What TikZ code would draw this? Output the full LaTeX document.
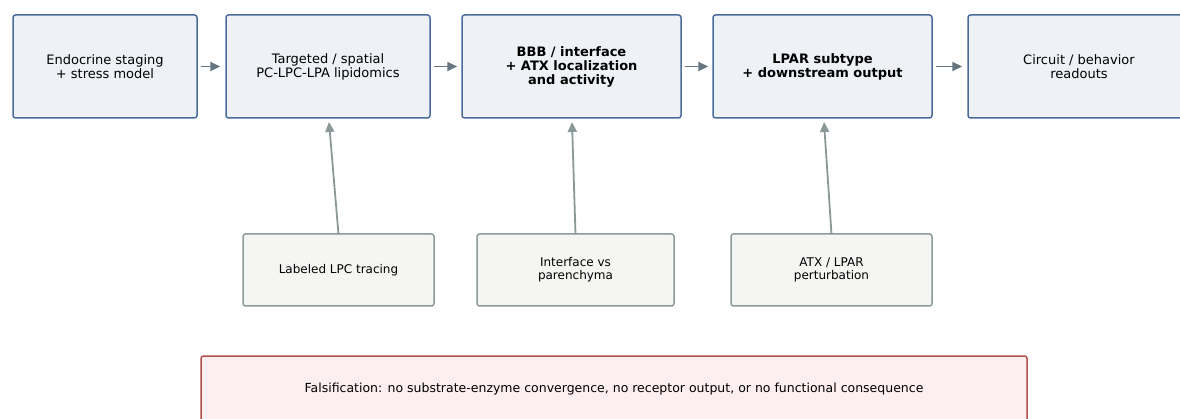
\documentclass[tikz,border=0pt]{standalone}
\usepackage{fontspec}
\setmainfont{DejaVu Sans}
\usetikzlibrary{arrows.meta}
\definecolor{topfill}{HTML}{EEF2F7}
\definecolor{topdraw}{HTML}{4A6C9B}
\definecolor{lowfill}{HTML}{F5F5F3}
\definecolor{lowdraw}{HTML}{8C9A9A}
\definecolor{falfill}{HTML}{FDEFEF}
\definecolor{faldraw}{HTML}{B0504A}
\definecolor{arr}{HTML}{66757F}
\definecolor{arrlow}{HTML}{8A9898}
\tikzset{
  topfont/.style={font=\fontsize{13}{14}\selectfont},
  topbox/.style={draw=topdraw, fill=topfill, line width=1.5pt, rounded corners=2.5pt, align=center, topfont, inner sep=0pt},
  lowbox/.style={draw=lowdraw, fill=lowfill, line width=1.5pt, rounded corners=2.5pt, align=center, font=\fontsize{12}{13}\selectfont, inner sep=0pt},
  falbox/.style={draw=faldraw, fill=falfill, line width=1.5pt, rounded corners=2.5pt, align=center, inner sep=0pt},
  flow/.style={draw=arr, line width=1.8pt, -{Triangle[length=10pt,width=9pt]}},
  feed/.style={flow, draw=arrlow},
}
\begin{document}
\begin{tikzpicture}[x=1pt,y=-1pt]
\useasboundingbox (0,0) rectangle (1180,419);
\node[topbox, minimum width=184pt, minimum height=103pt] (b1) at (105,66.5) {Endocrine staging\\+ stress model};
\node[topbox, minimum width=204pt, minimum height=103pt] (b2) at (328,66.5) {Targeted / spatial\\PC-LPC-LPA lipidomics};
\node[topbox, minimum width=219pt, minimum height=103pt] (b3) at (571.5,66.5) {\bfseries BBB / interface\\\bfseries + ATX localization\\\bfseries and activity};
\node[topbox, minimum width=219pt, minimum height=103pt] (b4) at (822.5,66.5) {\bfseries LPAR subtype\\\bfseries + downstream output};
\node[topbox, minimum width=224pt, minimum height=103pt] (b5) at (1080,66.5) {};
\node at (1079,66.5) [align=center, topfont] (b5t) {Circuit / behavior\\readouts};
\node[lowbox, minimum width=191pt, minimum height=72pt] (l1) at (338.5,270) {Labeled LPC tracing};
\node[lowbox, minimum width=197pt, minimum height=72pt] (l2) at (575.5,270) {Interface vs\\parenchyma};
\node[lowbox, minimum width=201pt, minimum height=72pt] (l3) at (831.5,270) {ATX / LPAR\\perturbation};
\node[falbox, minimum width=826pt, minimum height=80pt] (f) at (614,396) {};
\node at (614,389) [font=\fontsize{12.5}{14}\selectfont] (ft) {Falsification: no substrate-enzyme convergence, no receptor output, or no functional consequence};
\draw[flow] ([xshift=3pt]b1.east) -- ([xshift=-5pt]b2.west);
\draw[flow] ([xshift=3pt]b2.east) -- ([xshift=-4pt]b3.west);
\draw[flow] ([xshift=3pt]b3.east) -- ([xshift=-4pt]b4.west);
\draw[flow] ([xshift=3pt]b4.east) -- ([xshift=-5pt]b5.west);
\coordinate (t1) at (329,122);
\coordinate (t2) at (572,122);
\coordinate (t3) at (824,122);
\draw[feed] ([yshift=-1pt]l1.north) -- (t1);
\draw[feed] ([yshift=-1pt]l2.north) -- (t2);
\draw[feed] ([yshift=-1pt]l3.north) -- (t3);
\end{tikzpicture}
\end{document}
